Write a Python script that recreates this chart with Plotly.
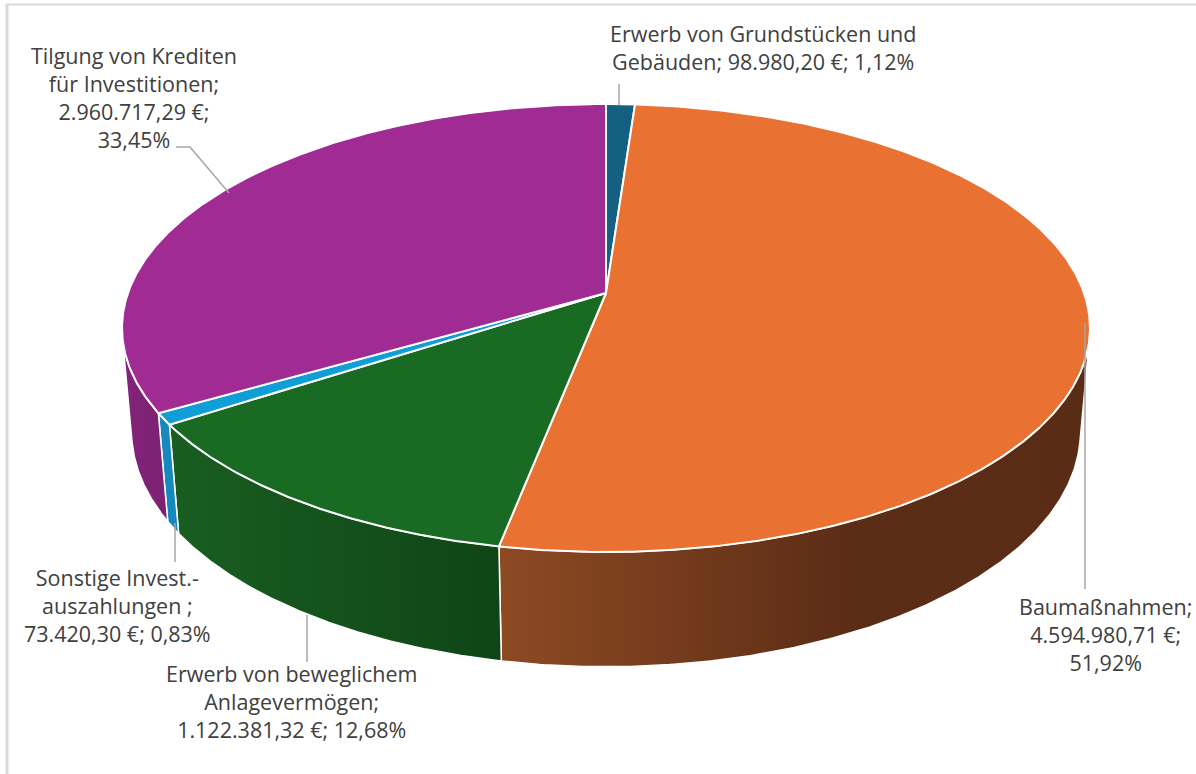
import numpy as np
import plotly.graph_objects as go

# ---- data ----
categories = [
    "Erwerb von Grundstücken und Gebäuden",
    "Baumaßnahmen",
    "Erwerb von beweglichem Anlagevermögen",
    "Sonstige Invest.-auszahlungen ",
    "Tilgung von Krediten für Investitionen",
]
values = [98980.20, 4594980.71, 1122381.32, 73420.30, 2960717.29]
# label layout: how each category name is broken over lines
label_names = [
    "Erwerb von Grundstücken und<br>Gebäuden",
    "Baumaßnahmen",
    "Erwerb von beweglichem<br>Anlagevermögen",
    "Sonstige Invest.-<br>auszahlungen ",
    "Tilgung von Krediten<br>für Investitionen",
]
label_seps = [["; ", "; "], [";<br>", ";<br>"], [";<br>", "; "], [";<br>", "; "], [";<br>", ";<br>"]]

# ---- style ----
top_colors = ["#156082", "#E97132", "#196B24", "#0F9ED5", "#A02B93"]
side_scales = [
    [[0, "#0f4a66"], [1, "#0f4a66"]],
    [[0, "#8d4a23"], [0.6, "#5b2c16"], [1, "#5a2b15"]],
    [[0, "#195e21"], [1, "#0f4517"]],
    [[0, "#1589be"], [1, "#1589be"]],
    [[0, "#822479"], [1, "#7c2174"]],
]
label_pos = [(763, 47), (1105, 634), (291, 701), (117, 605), (134, 97)]
leaders = [
    [(619, 84), (619, 105)],
    [(1085, 323), (1085, 589)],
    [(307, 615), (307, 662)],
    [(175, 523), (175, 562)],
    [(176, 147), (190, 147), (229, 193)],
]

W, H = 1196, 774
cx, cy = 606, 293
f = 2720.0
D = 5.69
alpha = np.radians(27.2)
h = 0.245
s_a, c_a = np.sin(alpha), np.cos(alpha)


def proj(theta_deg, z):
    t = np.radians(theta_deg)
    X, Y = np.sin(t), np.cos(t)
    depth = Y * c_a - z * s_a + D
    u = X * f / depth
    v = (Y * s_a + z * c_a) * f / depth
    return cx + u, cy - v


def de(x, nd=2):
    s = f"{x:,.{nd}f}"
    return s.replace(",", "X").replace(".", ",").replace("X", ".")


total = sum(values)
pcts = [v / total * 100 for v in values]
bounds = np.concatenate([[0], np.cumsum(values) / total * 360])

# visible outer wall range
lim = np.degrees(np.arccos(-1 / (D * c_a)))
vis0, vis1 = lim, 360 - lim

fig = go.Figure()

# side walls
for i in range(len(values)):
    a0, a1 = max(bounds[i], vis0), min(bounds[i + 1], vis1)
    if a1 <= a0:
        continue
    th = np.linspace(a0, a1, 200)
    xt, yt = proj(th, 0)
    xb, yb = proj(th[::-1], -h)
    xs = np.concatenate([xt, xb, xt[:1]])
    ys = np.concatenate([yt, yb, yt[:1]])
    fig.add_trace(go.Scatter(
        x=xs, y=ys, mode="lines", fill="toself",
        line=dict(color="white", width=1.5),
        fillgradient=dict(type="horizontal", colorscale=side_scales[i]),
        hoverinfo="skip", showlegend=False))

# top faces
for i in range(len(values)):
    th = np.linspace(bounds[i], bounds[i + 1], max(3, int((bounds[i + 1] - bounds[i]) * 3)))
    xr, yr = proj(th, 0)
    xs = np.concatenate([[cx], xr, [cx]])
    ys = np.concatenate([[cy], yr, [cy]])
    fig.add_trace(go.Scatter(
        x=xs, y=ys, mode="lines", fill="toself", fillcolor=top_colors[i],
        line=dict(color="white", width=2),
        hoverinfo="skip", showlegend=False, name=categories[i]))

# leader lines
for pts in leaders:
    fig.add_trace(go.Scatter(
        x=[p[0] for p in pts], y=[p[1] for p in pts], mode="lines",
        line=dict(color="#a6a6a6", width=1.5), hoverinfo="skip", showlegend=False))

# labels
for i in range(len(values)):
    txt = (label_names[i] + label_seps[i][0] + de(values[i]) + " €" +
           label_seps[i][1] + de(pcts[i]) + "%")
    fig.add_annotation(x=label_pos[i][0], y=label_pos[i][1], text=txt,
                       showarrow=False, xanchor="center", yanchor="middle",
                       align="center",
                       font=dict(family="Open Sans, Arial, sans-serif",
                                 size=21.5, color="#404040"))

# chart frame
fig.add_shape(type="line", xref="x", yref="y", x0=6, x1=W, y0=4.5, y1=4.5,
              line=dict(color="#d9d9d9", width=2))
fig.add_shape(type="line", xref="x", yref="y", x0=7, x1=7, y0=4, y1=H,
              line=dict(color="#d9d9d9", width=3))

fig.update_layout(
    width=W, height=H, margin=dict(l=0, r=0, t=0, b=0),
    paper_bgcolor="white", plot_bgcolor="white",
    xaxis=dict(range=[0, W], visible=False, fixedrange=True),
    yaxis=dict(range=[H, 0], visible=False, fixedrange=True),
    showlegend=False,
)
fig.write_html("out.html", config={"displayModeBar": False},
               post_script="document.body.style.margin='0';document.body.style.overflow='hidden';")
